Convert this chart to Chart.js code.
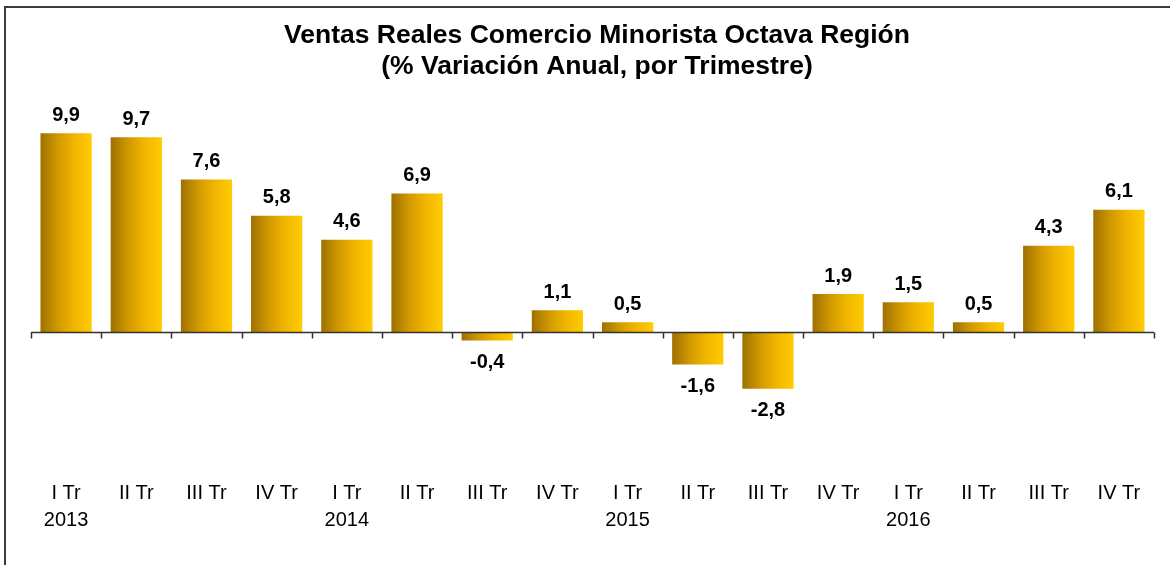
<!DOCTYPE html>
<html>
<head>
<meta charset="utf-8">
<script src="https://cdn.jsdelivr.net/npm/chart.js@4/dist/chart.umd.min.js"></script>
<style>
  html, body { margin: 0; padding: 0; background: #fff; overflow: hidden; }
  #frame {
    position: absolute; left: 4px; top: 6px; width: 2000px; height: 2000px;
    border-top: 2px solid #3c3c3c; border-left: 2px solid #3c3c3c;
  }
  #wrap { position: absolute; left: 0; top: 0; width: 1170px; height: 565px; }
</style>
</head>
<body>
<div id="frame"></div>
<div id="wrap"><canvas id="myChart" width="1170" height="565"></canvas></div>
<script>
// Quarter labels (year shown under each first quarter)
var quarters = ['I Tr', 'II Tr', 'III Tr', 'IV Tr', 'I Tr', 'II Tr', 'III Tr', 'IV Tr',
                'I Tr', 'II Tr', 'III Tr', 'IV Tr', 'I Tr', 'II Tr', 'III Tr', 'IV Tr'];
var years = ['2013', '', '', '', '2014', '', '', '', '2015', '', '', '', '2016', '', '', ''];

// % annual variation
var ventas = [9.9, 9.7, 7.6, 5.8, 4.6, 6.9, -0.4, 1.1, 0.5, -1.6, -2.8, 1.9, 1.5, 0.5, 4.3, 6.1];

var titleLines = ['Ventas Reales Comercio Minorista Octava Región', '(% Variación Anual, por Trimestre)'];

var labels = quarters.map(function(q, i) {
    return years[i] ? [q, years[i]] : [q];
});

var fontFamily = '"Liberation Sans", Arial, Helvetica, sans-serif';

// Gradient for each bar, dark on the left to bright yellow on the right
function barGradient(context) {
    var chart = context.chart;
    var area = chart.chartArea;
    if (!area) return '#e8a800';
    var xScale = chart.scales.x;
    var catW = (area.right - area.left) / ventas.length;
    var w = catW * 0.73;
    var cx = xScale.getPixelForValue(context.dataIndex);
    var g = chart.ctx.createLinearGradient(cx - w / 2, 0, cx + w / 2, 0);
    g.addColorStop(0, '#9e7000');
    g.addColorStop(0.35, '#d29a00');
    g.addColorStop(0.65, '#f0b400');
    g.addColorStop(1, '#ffcc00');
    return g;
}

// Title, zero line with tick marks between categories, and value labels
var zeroAxisAndLabels = {
    id: 'zeroAxisAndLabels',
    afterDatasetsDraw: function(chart) {
        var ctx = chart.ctx;
        var area = chart.chartArea;
        var xScale = chart.scales.x;
        var yScale = chart.scales.y;
        var y0 = Math.round(yScale.getPixelForValue(0)) + 0.5;
        var catW = (area.right - area.left) / ventas.length;

        ctx.save();
        // title (slightly right of the plot centre, like the original)
        ctx.fillStyle = '#000';
        ctx.font = 'bold 26.5px ' + fontFamily;
        ctx.textAlign = 'center';
        ctx.textBaseline = 'middle';
        ctx.fillText(titleLines[0], 597, 36);
        ctx.fillText(titleLines[1], 597, 67);

        ctx.strokeStyle = '#333';
        ctx.lineWidth = 1.5;
        ctx.beginPath();
        ctx.moveTo(area.left, y0);
        ctx.lineTo(area.right, y0);
        for (var i = 0; i <= ventas.length; i++) {
            var x = Math.round(xScale.getPixelForValue(i) - catW / 2) + 0.5;
            ctx.moveTo(x, y0);
            ctx.lineTo(x, y0 + 6);
        }
        ctx.stroke();

        ctx.font = 'bold 20px ' + fontFamily;
        var meta = chart.getDatasetMeta(0);
        meta.data.forEach(function(bar, i) {
            var v = ventas[i];
            var txt = v.toFixed(1).replace('.', ',');
            var y = v >= 0 ? bar.y - 18 : bar.y + 22;
            ctx.fillText(txt, bar.x, y);
        });
        ctx.restore();
    }
};

var ctx = document.getElementById('myChart').getContext('2d');
var myChart = new Chart(ctx, {
    type: 'bar',
    data: {
        labels: labels,
        datasets: [{
            label: 'Ventas',
            data: ventas,
            backgroundColor: barGradient,
            borderWidth: 0,
            categoryPercentage: 1,
            barPercentage: 0.73
        }]
    },
    options: {
        responsive: false,
        animation: false,
        layout: {
            padding: { left: 31, right: 16, top: 91, bottom: 4 }
        },
        plugins: {
            legend: { display: false },
            tooltip: { enabled: false },
            title: { display: false }
        },
        scales: {
            x: {
                grid: { display: false, drawTicks: false },
                border: { display: false },
                ticks: {
                    color: '#000',
                    padding: 27,
                    maxRotation: 0,
                    autoSkip: false,
                    font: { family: fontFamily, size: 20, lineHeight: 1.35 }
                }
            },
            y: {
                display: false,
                min: -6,
                max: 12
            }
        }
    },
    plugins: [zeroAxisAndLabels]
});
</script>
</body>
</html>
